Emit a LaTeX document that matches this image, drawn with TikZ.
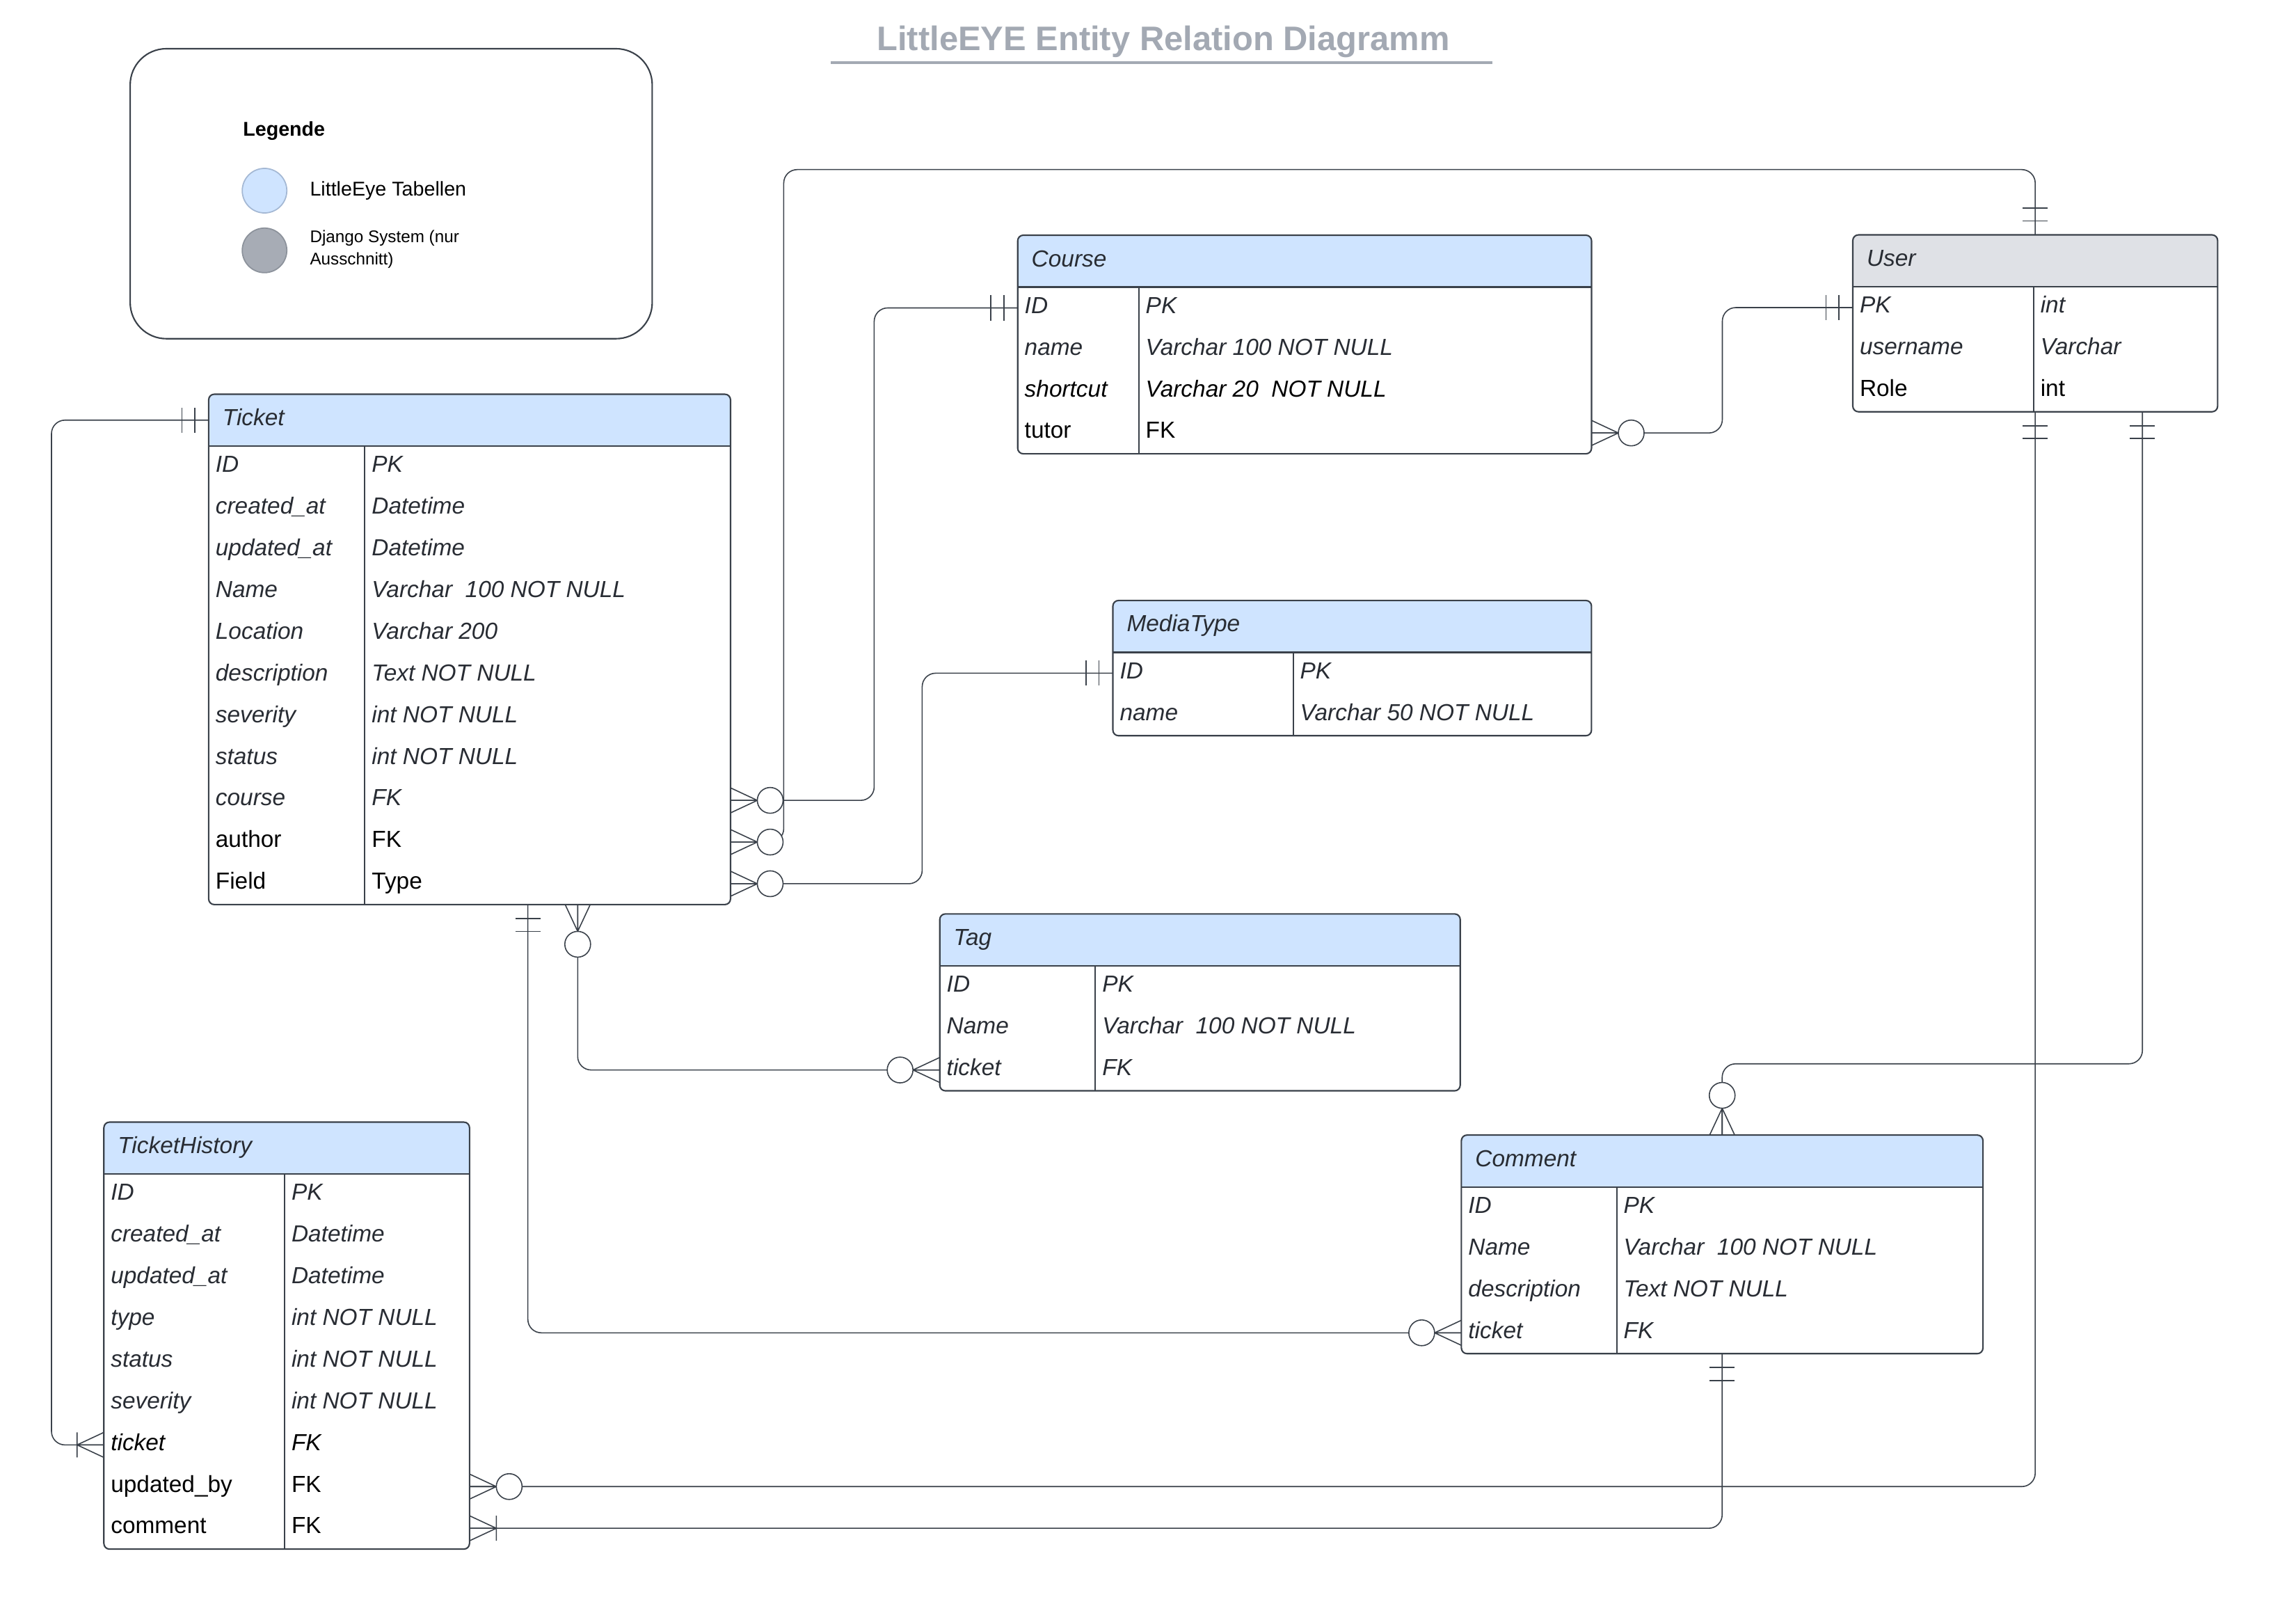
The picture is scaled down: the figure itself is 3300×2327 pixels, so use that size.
\documentclass[tikz,border=0pt]{standalone}
\usepackage{fontspec}
\setmainfont{Liberation Sans}
\usepackage{tikz}
\usetikzlibrary{shapes,arrows,positioning,backgrounds}

\definecolor{ink}{HTML}{3A414A}
\definecolor{inktext}{HTML}{282C33}
\definecolor{tabblue}{HTML}{CFE4FF}
\definecolor{tabgray}{HTML}{DFE1E6}
\definecolor{titlegray}{HTML}{A3A9B3}
\definecolor{djangogray}{HTML}{A7ACB5}
\definecolor{djangorim}{HTML}{8C929B}
\definecolor{bluerim}{HTML}{A4B8D4}

\newlength\tabw
\newlength\colw
\newcommand{\hd}[1]{\makebox[\tabw][l]{\hspace{0.1cm}#1}}
\newcommand{\rw}[2]{\makebox[\tabw][l]{\makebox[\colw][l]{#1}#2}}
\newcommand{\up}[1]{{\upshape\color{black}#1}}
\newcommand{\bk}[1]{{\color{black}#1}}
\newcommand{\erframe}[3]{%
  \path[fill=white, rounded corners=2.3pt] (#1.north west) rectangle (#2.south east);
  \fill[#3, rounded corners=2.3pt] (#1.north west) rectangle (#1.south east);
  \fill[#3] (#1.west) rectangle (#1.south east);
  \draw[tabline] (#1.south west) -- (#1.south east);
  \draw[tabline] ([xshift=\colw]#1.south west) -- ([xshift=\colw]#2.south west);
  \draw[tabline, rounded corners=2.3pt] (#1.north west) rectangle (#2.south east);}

\tikzstyle{head} = [rectangle, anchor=north west, inner xsep=0.1cm, inner ysep=0pt, outer sep=0pt,
    minimum height=0.745cm, text height=7pt, text depth=2.6pt, text=inktext,
    font=\itshape\fontsize{9.5}{11}\selectfont]
\tikzstyle{row} = [rectangle, inner xsep=0.1cm, inner ysep=0pt, outer sep=0pt,
    minimum height=0.5986cm, text height=7pt, text depth=2.6pt, text=inktext,
    font=\itshape\fontsize{9.5}{11}\selectfont]
\tikzstyle{tabline} = [draw=ink, line width=0.6pt]
\tikzstyle{line} = [draw=ink, line width=0.45pt, rounded corners=5.5pt]
\tikzstyle{ermark} = [draw=ink, line width=0.45pt]
\tikzstyle{titletext} = [inner sep=0pt, text=titlegray, font=\bfseries\fontsize{13.9}{16}\selectfont]
\tikzstyle{titlerule} = [draw=titlegray, line width=1.1pt]
\tikzstyle{legendbox} = [rectangle, draw=ink, line width=0.6pt, rounded corners=0.52cm,
    minimum width=7.499cm, minimum height=4.165cm]
\tikzstyle{legenddot} = [circle, minimum size=0.64cm, inner sep=0pt, line width=0.5pt]
\tikzstyle{legendtext} = [anchor=base west, inner sep=0pt, font=\fontsize{8.15}{10}\selectfont]

\tikzset{
  one/.pic={\draw[ermark] (0.2cm,-0.18cm) -- (0.2cm,0.18cm) (0.385cm,-0.18cm) -- (0.385cm,0.18cm);},
  zmany/.pic={\draw[ermark] (0,0.18cm) -- (0.385cm,0) -- (0,-0.18cm) (0,0) -- (0.385cm,0);
    \draw[ermark, fill=white] (0.57cm,0) circle (0.185cm);},
  omany/.pic={\draw[ermark] (0,0.18cm) -- (0.385cm,0) -- (0,-0.18cm) (0,0) -- (0.385cm,0)
    (0.385cm,0.18cm) -- (0.385cm,-0.18cm);}
}

\begin{document}
\begin{tikzpicture}[x=0.01cm, y=-0.01cm]
    \useasboundingbox (0,0) rectangle (3300,2327);
    % Title and legend
    \node[titletext, anchor=base] (title) at (1672,72) {LittleEYE Entity Relation Diagramm};
    \draw[titlerule] (1194,89.7) -- (2145.3,89.7);
    \node[legendbox] (legend) at (562.25,278.35) {};
    \node[legendtext, font=\bfseries\fontsize{8.15}{10}\selectfont] (legende) at (348.6,195.6) {Legende};
    \node[legenddot, fill=tabblue, draw=bluerim] (lgblue) at (380.2,274) {};
    \node[legendtext] (lgbluetext) at (444.8,281.6) {LittleEye Tabellen};
    \node[legenddot, fill=djangogray, draw=djangorim] (lggray) at (380.2,359.8) {};
    \node[legendtext, anchor=west, align=left, font=\fontsize{6.9}{9}\selectfont] (lggraytext) at (444.8,358.2) {Django System (nur\\Ausschnitt)};

    % Place nodes
    % Ticket
    \setlength\tabw{7.296cm}\setlength\colw{2.244cm}
    \node [head] (ticket) at (299.9,566.5) {\hd{Ticket}};
    \node [row, below=0pt of ticket] (ticket-id) {\rw{ID}{PK}};
    \node [row, below=0pt of ticket-id] (ticket-created) {\rw{created\_at}{Datetime}};
    \node [row, below=0pt of ticket-created] (ticket-updated) {\rw{updated\_at}{Datetime}};
    \node [row, below=0pt of ticket-updated] (ticket-name) {\rw{Name}{Varchar\ \ 100 NOT NULL}};
    \node [row, below=0pt of ticket-name] (ticket-loc) {\rw{Location}{Varchar 200}};
    \node [row, below=0pt of ticket-loc] (ticket-desc) {\rw{description}{Text NOT NULL}};
    \node [row, below=0pt of ticket-desc] (ticket-sev) {\rw{severity}{int NOT NULL}};
    \node [row, below=0pt of ticket-sev] (ticket-status) {\rw{status}{int NOT NULL}};
    \node [row, below=0pt of ticket-status] (ticket-course) {\rw{course}{FK}};
    \node [row, below=0pt of ticket-course] (ticket-author) {\rw{\up{author}}{\up{FK}}};
    \node [row, below=0pt of ticket-author] (ticket-field) {\rw{\up{Field}}{\up{Type}}};
    \begin{scope}[on background layer]
        \erframe{ticket}{ticket-field}{tabblue}
    \end{scope}

    % Course
    \setlength\tabw{8.043cm}\setlength\colw{1.739cm}
    \node [head] (course) at (1462.7,338) {\hd{Course}};
    \node [row, below=0pt of course] (course-id) {\rw{ID}{PK}};
    \node [row, below=0pt of course-id] (course-name) {\rw{name}{Varchar 100 NOT NULL}};
    \node [row, below=0pt of course-name] (course-short) {\rw{\bk{shortcut}}{\bk{Varchar 20\ \ NOT NULL}}};
    \node [row, below=0pt of course-short] (course-tutor) {\rw{\up{tutor}}{\up{FK}}};
    \begin{scope}[on background layer]
        \erframe{course}{course-tutor}{tabblue}
    \end{scope}

    % User
    \setlength\tabw{5.04cm}\setlength\colw{2.596cm}
    \node [head] (user) at (2663,337.5) {\hd{User}};
    \node [row, below=0pt of user] (user-pk) {\rw{PK}{int}};
    \node [row, below=0pt of user-pk] (user-name) {\rw{username}{Varchar}};
    \node [row, below=0pt of user-name] (user-role) {\rw{\up{Role}}{\up{int}}};
    \begin{scope}[on background layer]
        \erframe{user}{user-role}{tabgray}
    \end{scope}

    % MediaType
    \setlength\tabw{6.675cm}\setlength\colw{2.589cm}
    \node [head] (media) at (1599.5,862.9) {\hd{MediaType}};
    \node [row, below=0pt of media] (media-id) {\rw{ID}{PK}};
    \node [row, below=0pt of media-id] (media-name) {\rw{name}{Varchar 50 NOT NULL}};
    \begin{scope}[on background layer]
        \erframe{media}{media-name}{tabblue}
    \end{scope}

    % Tag
    \setlength\tabw{7.276cm}\setlength\colw{2.235cm}
    \node [head] (tag) at (1350.7,1313.3) {\hd{Tag}};
    \node [row, below=0pt of tag] (tag-id) {\rw{ID}{PK}};
    \node [row, below=0pt of tag-id] (tag-name) {\rw{Name}{Varchar\ \ 100 NOT NULL}};
    \node [row, below=0pt of tag-name] (tag-ticket) {\rw{ticket}{FK}};
    \begin{scope}[on background layer]
        \erframe{tag}{tag-ticket}{tabblue}
    \end{scope}

    % TicketHistory
    \setlength\tabw{5.052cm}\setlength\colw{2.596cm}
    \node [head] (thist) at (149.3,1612.5) {\hd{TicketHistory}};
    \node [row, below=0pt of thist] (thist-id) {\rw{ID}{PK}};
    \node [row, below=0pt of thist-id] (thist-created) {\rw{created\_at}{Datetime}};
    \node [row, below=0pt of thist-created] (thist-updated) {\rw{updated\_at}{Datetime}};
    \node [row, below=0pt of thist-updated] (thist-type) {\rw{type}{int NOT NULL}};
    \node [row, below=0pt of thist-type] (thist-status) {\rw{status}{int NOT NULL}};
    \node [row, below=0pt of thist-status] (thist-sev) {\rw{severity}{int NOT NULL}};
    \node [row, below=0pt of thist-sev] (thist-ticket) {\rw{\bk{ticket}}{\bk{FK}}};
    \node [row, below=0pt of thist-ticket] (thist-updby) {\rw{\up{updated\_by}}{\up{FK}}};
    \node [row, below=0pt of thist-updby] (thist-comment) {\rw{\up{comment}}{\up{FK}}};
    \begin{scope}[on background layer]
        \erframe{thist}{thist-comment}{tabblue}
    \end{scope}

    % Comment
    \setlength\tabw{7.292cm}\setlength\colw{2.231cm}
    \node [head] (comment) at (2100.4,1631.1) {\hd{Comment}};
    \node [row, below=0pt of comment] (comment-id) {\rw{ID}{PK}};
    \node [row, below=0pt of comment-id] (comment-name) {\rw{Name}{Varchar\ \ 100 NOT NULL}};
    \node [row, below=0pt of comment-name] (comment-desc) {\rw{description}{Text NOT NULL}};
    \node [row, below=0pt of comment-desc] (comment-ticket) {\rw{ticket}{FK}};
    \begin{scope}[on background layer]
        \erframe{comment}{comment-ticket}{tabblue}
    \end{scope}

    % Draw edges
    \coordinate (tk-tag) at ([xshift=5.301cm]ticket-field.south west);
    \coordinate (tk-com) at ([xshift=4.585cm]ticket-field.south west);
    \coordinate (us-com) at ([xshift=-1.08cm]user-role.south east);
    \path [line] (ticket.west) -- ++(-225.9,0) |- (thist-ticket.west);
    \path [line] (ticket-course.east) -- ++(206.5,0) |- (course-id.west);
    \path [line] (ticket-author.east) -- ++(76.5,0) |- ([yshift=0.9375cm]user.north) -- (user.north);
    \path [line] (ticket-field.east) -- ++(275.5,0) |- (media-id.west);
    \path [line] (course-tutor.east) -- ++(188,0) |- (user-pk.west);
    \path [line] (tk-tag) |- (tag-ticket.west);
    \path [line] (tk-com) |- (comment-ticket.west);
    \path [line] (user-role.south) |- (thist-updby.east);
    \path [line] (us-com) -- ++(0,937) -| (comment.north);
    \path [line] (comment-ticket.south) |- (thist-comment.east);

    % Cardinalities
    \pic [rotate=180] at (ticket.west) {one};
    \pic [rotate=180] at (thist-ticket.west) {omany};
    \pic at (ticket-course.east) {zmany};
    \pic [rotate=180] at (course-id.west) {one};
    \pic at (ticket-author.east) {zmany};
    \pic [rotate=90] at (user.north) {one};
    \pic at (ticket-field.east) {zmany};
    \pic [rotate=180] at (media-id.west) {one};
    \pic at (course-tutor.east) {zmany};
    \pic [rotate=180] at (user-pk.west) {one};
    \pic [rotate=-90] at (tk-tag) {zmany};
    \pic [rotate=180] at (tag-ticket.west) {zmany};
    \pic [rotate=-90] at (tk-com) {one};
    \pic [rotate=180] at (comment-ticket.west) {zmany};
    \pic [rotate=-90] at (user-role.south) {one};
    \pic at (thist-updby.east) {zmany};
    \pic [rotate=-90] at (us-com) {one};
    \pic [rotate=90] at (comment.north) {zmany};
    \pic [rotate=-90] at (comment-ticket.south) {one};
    \pic at (thist-comment.east) {omany};
\end{tikzpicture}
\end{document}
